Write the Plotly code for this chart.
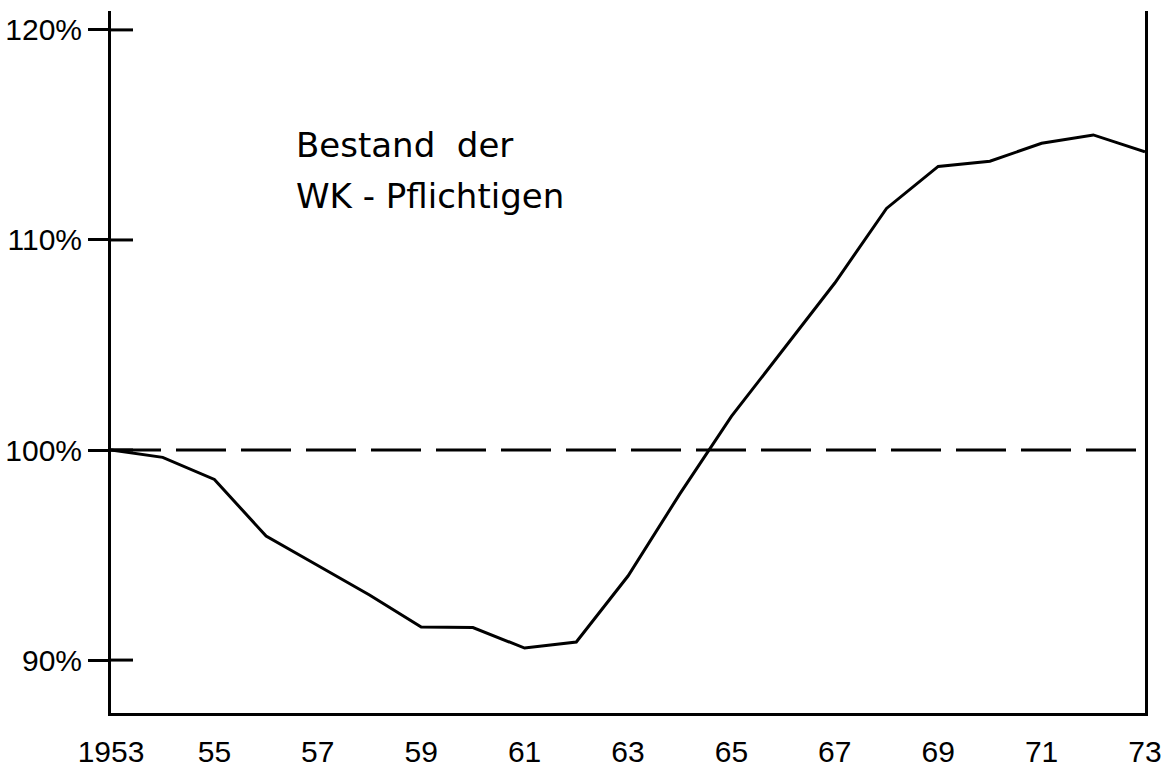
import plotly.graph_objects as go

years = list(range(1953, 1974))
values = [100.0, 99.65, 98.6, 95.9, 94.5, 93.1, 91.57, 91.55, 90.57, 90.86,
          94.0, 97.9, 101.6, 104.8, 107.95, 111.5, 113.5, 113.75, 114.6, 115.0, 114.2]

x_tickvals = [1953, 1955, 1957, 1959, 1961, 1963, 1965, 1967, 1969, 1971, 1973]
x_ticktext = ["1953", "55", "57", "59", "61", "63", "65", "67", "69", "71", "73"]
y_tickvals = [90, 100, 110, 120]
y_ticktext = ["90%", "100%", "110%", "120%"]
reference_level = 100
title_lines = ["Bestand  der", "WK - Pflichtigen"]

FONT = "Liberation Sans, Arial, sans-serif"
TFONT = "DejaVu Sans, sans-serif"

fig = go.Figure()
fig.add_trace(go.Scatter(
    x=years, y=values, mode="lines",
    line=dict(color="black", width=3),
    showlegend=False, hoverinfo="skip",
))

# reference dashed line at 100 %
fig.add_shape(type="line", xref="x", yref="y",
              x0=years[0], x1=years[-1], y0=reference_level, y1=reference_level,
              line=dict(color="black", width=3, dash="50px,15px"))

# inner part of the y ticks (crossing the axis)
for v in y_tickvals:
    fig.add_shape(type="line", xref="paper", yref="y",
                  x0=0, x1=0.0213, y0=v, y1=v,
                  line=dict(color="black", width=3))

for i, line in enumerate(title_lines):
    fig.add_annotation(xref="paper", yref="paper", x=0.177, y=0.841 - i * 0.0727,
                       xanchor="left", yanchor="top", align="left",
                       text=line, showarrow=False,
                       font=dict(family=TFONT, size=34, color="black"))

fig.update_layout(
    width=1166, height=771,
    margin=dict(l=111, r=21, t=11, b=58, autoexpand=False),
    paper_bgcolor="white", plot_bgcolor="white",
    font=dict(family=FONT, color="black"),
)
fig.update_xaxes(
    range=[1953, 1973], tickvals=x_tickvals, ticktext=x_ticktext,
    showgrid=False, zeroline=False, automargin=False,
    showline=True, linecolor="black", linewidth=3,
    ticks="outside", ticklen=10, tickcolor="rgba(0,0,0,0)",
    tickfont=dict(family=FONT, size=30, color="black"),
)
fig.update_yaxes(
    range=[87.48, 120.9], tickvals=y_tickvals, ticktext=y_ticktext,
    showgrid=False, zeroline=False, automargin=False,
    showline=True, mirror=True, linecolor="black", linewidth=3,
    ticks="outside", ticklen=20, tickwidth=3, tickcolor="black",
    tickfont=dict(family=FONT, size=30, color="black"),
)

fig.write_html(
    "out.html",
    config={"displayModeBar": False},
    post_script="document.body.style.margin='0';document.body.style.overflow='hidden';",
)
